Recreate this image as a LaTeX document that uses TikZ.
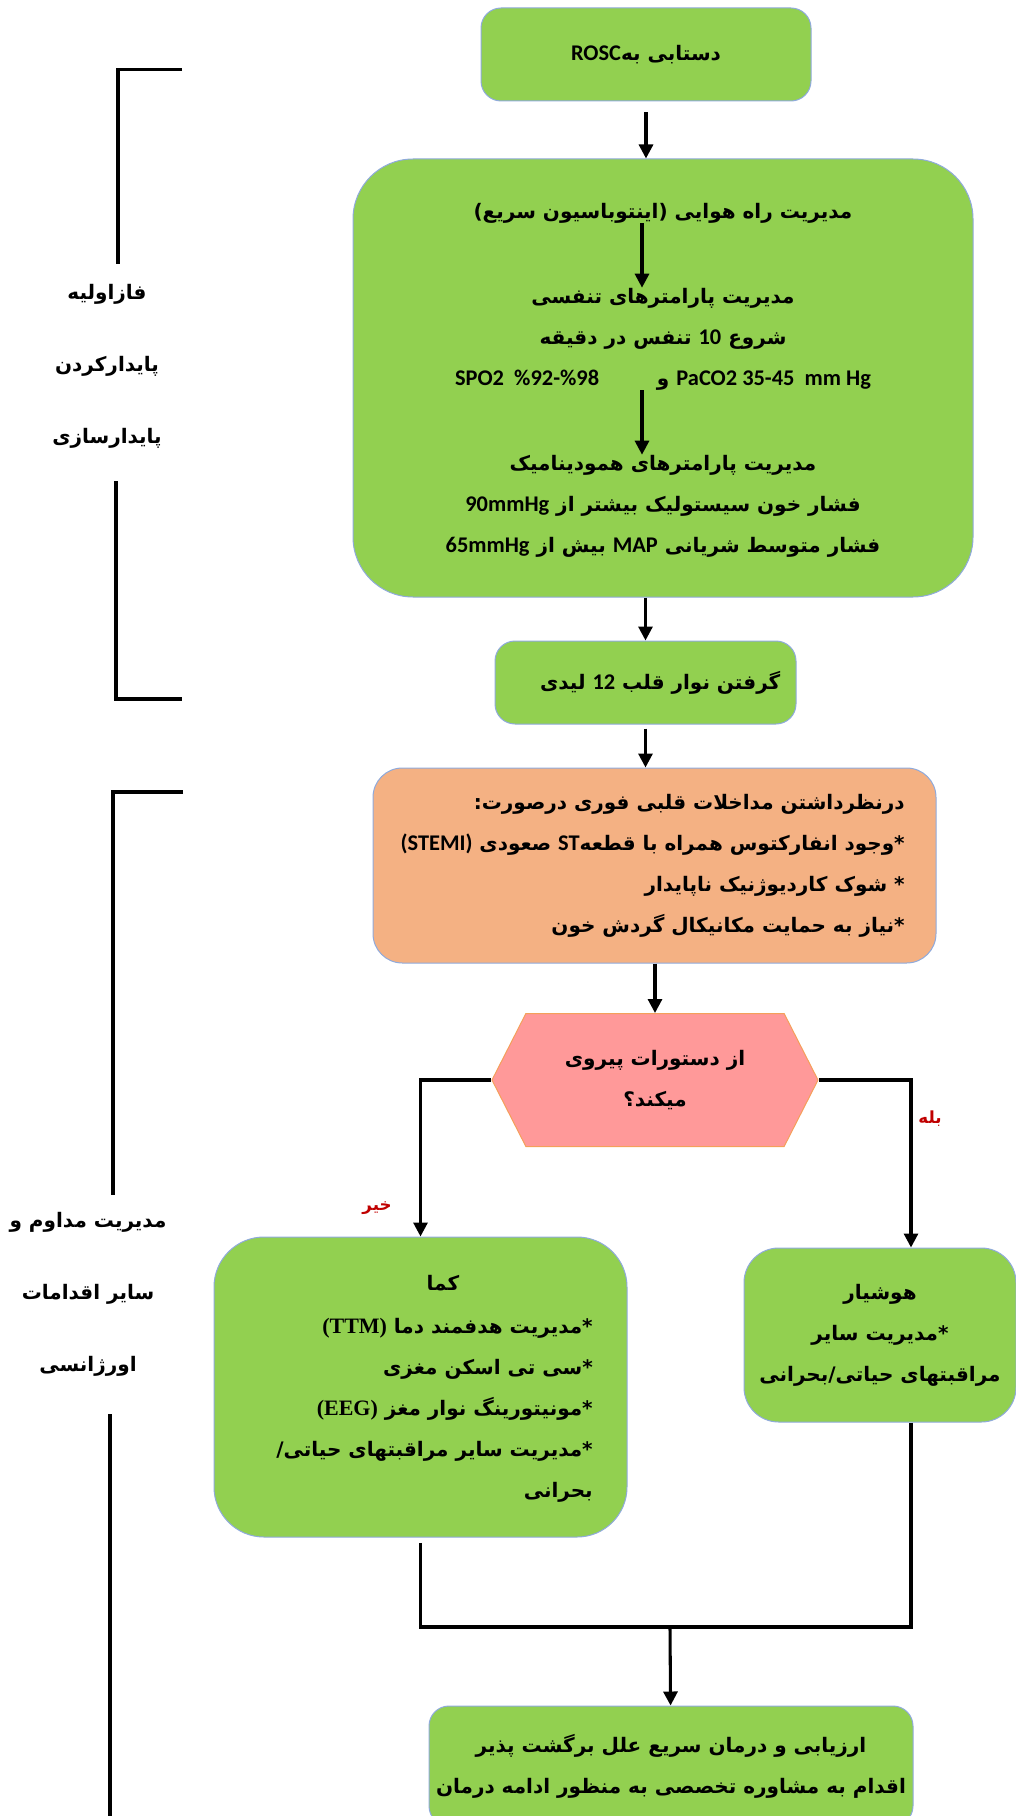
\documentclass[tikz,border=0pt]{standalone}
\usepackage{fontspec}
\usetikzlibrary{arrows.meta,shapes.symbols}
\newfontfamily\fa[Script=Arabic]{DejaVu Sans}
\newfontfamily\lat[Scale=1.12]{Carlito}
\newfontfamily\tnr[Scale=1.1]{Liberation Serif}
\TeXXeTstate=1
% one right-to-left line, and left-to-right runs inside it
\newcommand\fal[1]{\beginR #1\endR}
\newcommand\enw[1]{\beginL{\lat #1}\endL{}}
\newcommand\tnw[1]{\beginL{\tnr #1}\endL{}}
\definecolor{boxgreen}{RGB}{146,208,80}
\definecolor{boxedge}{RGB}{143,170,220}
\definecolor{boxorange}{RGB}{244,177,131}
\definecolor{hexpink}{RGB}{255,153,153}
\definecolor{hexedge}{RGB}{244,160,90}
\definecolor{answerred}{RGB}{192,0,0}

\tikzset{
  txt/.style={font=\fa\bfseries\fontsize{15}{30.75}\selectfont, align=center, inner sep=0pt},
  box/.style={txt, draw=boxedge, line width=0.75pt, fill=boxgreen, rounded corners=15pt},
  decision/.style={txt, shape=signal, signal to=west and east, signal pointer angle=126,
    fill=hexpink, draw=hexedge, line width=0.75pt, minimum width=244.5pt, minimum height=99.75pt},
  arr/.style={line width=2.3pt, -{Triangle[length=10.5pt,width=10.5pt]}},
  link/.style={line width=2.4pt},
  bracket/.style={line width=2.3pt},
  side/.style={font=\fa\bfseries\fontsize{15}{54}\selectfont, align=center},
  answer/.style={font=\fa\bfseries\fontsize{12.5}{14}\selectfont, text=answerred, inner sep=0pt}
}

\begin{document}
\begin{tikzpicture}[x=0.75pt,y=-0.75pt]
\useasboundingbox (0,0) rectangle (1016,1816);

% phase brackets on the left
\draw[bracket] (182,69.5) -- (118,69.5) -- (118,264);
\draw[bracket] (116,481) -- (116,699) -- (182,699);
\node[side] (phase1) at (107,366) {\fal{فازاولیه}\\ \fal{پایدارکردن}\\ \fal{پایدارسازی}};
\draw[bracket] (183,792) -- (113,792) -- (113,1195);
\draw[bracket] (110,1414) -- (110,1830);
\node[side] (phase2) at (88,1294) {\fal{مدیریت مداوم و}\\ \fal{سایر اقدامات}\\ \fal{اورژانسی}};

% main column
\node[box, minimum width=247.5pt, minimum height=69.75pt] (rosc) at (646,54.5) {\fal{دستابی به\enw{ROSC}}};

\node[box, rounded corners=45pt, minimum width=465pt, minimum height=328.5pt] (care) at (663,378) {};
\node[txt] (airway) at (663,213) {\fal{مدیریت راه هوایی (اینتوباسیون سریع)}};
\node[txt] (breath) at (663,339) {\fal{مدیریت پارامترهای تنفسی}\\
  \fal{شروع \enw{10} تنفس در دقیقه}\\
  {\lat SPO2\ \ \%92-\%98}\makebox[58pt]{\hspace*{38pt}و}{\lat PaCO2 35-45\ \ mm Hg}};
\node[txt] (hemo) at (663,506) {\fal{مدیریت پارامترهای همودینامیک}\\
  \fal{فشار خون سیستولیک بیشتر از \enw{90mmHg}}\\
  \fal{فشار متوسط شریانی \enw{MAP} بیش از \enw{65mmHg}}};
\coordinate (spine) at (642,0);
\draw[arr] (airway.south -| spine) -- (breath.north -| spine);
\draw[arr] (breath.south -| spine) -- (hemo.north -| spine);

\node[box, minimum width=225.75pt, minimum height=62.25pt] (ecg) at (645.5,682.5) {\hspace*{22pt}\fal{گرفتن نوار قلب \enw{12} لیدی}};

\node[box, fill=boxorange, rounded corners=22pt, minimum width=422.25pt, minimum height=146.25pt] (cardiac) at (654.5,865.5) {};
\node[txt, align=right, anchor=east] (cardtxt) at (905,866) {\fal{درنظرداشتن مداخلات قلبی فوری درصورت:}\\
  \fal{*وجود انفارکتوس همراه با قطعه\enw{ST} صعودی \enw{(STEMI)}}\\
  \fal{* شوک کاردیوژنیک ناپایدار}\\
  \fal{*نیاز به حمایت مکانیکال گردش خون}};

\node[decision] (decide) at (655,1080) {\fal{از دستورات پیروی}\\ \fal{میکند؟}};

\node[box, rounded corners=37.5pt, minimum width=309.75pt, minimum height=225pt] (coma) at (420.5,1387) {};
\node[txt] (comatitle) at (443,1283) {\fal{کما}};
\node[txt, align=right, anchor=east] (comalist) at (593,1410) {\fal{*مدیریت هدفمند دما \tnw{(TTM)}}\\
  \fal{*سی تی اسکن مغزی}\\
  \fal{*مونیتورینگ نوار مغز \tnw{(EEG)}}\\
  \fal{*مدیریت سایر مراقبتهای حیاتی/}\\
  \fal{بحرانی}};

\node[box, rounded corners=26pt, minimum width=204pt, minimum height=130.5pt] (alert) at (880,1335) {\fal{هوشیار}\\ \fal{*مدیریت سایر}\\ \fal{مراقبتهای حیاتی/بحرانی}};

\node[box, minimum width=363pt, minimum height=90pt] (final) at (671,1766) {\fal{ارزیابی و درمان سریع علل برگشت پذیر}\\
  \fal{اقدام به مشاوره تخصصی به منظور ادامه درمان}};

\node[answer] (yeslab) at (930,1119) {\fal{بله}};
\node[answer] (nolab) at (377,1208) {\fal{خیر}};

% connectors
\draw[arr, shorten <=8pt] (rosc.south) -- (rosc.south |- care.north);
\draw[arr] (care.south -| ecg) -- (ecg.north);
\draw[arr, shorten <=3pt] (ecg.south) -- (ecg.south |- cardiac.north);
\draw[arr] (cardiac.south -| decide) -- (decide.north);
\draw[arr] (decide.west) -| (coma.north);
\draw[arr] (decide.east) -| ([xshift=23.25pt]alert.north);
\coordinate (join) at (670,1627);
\draw[link] ([yshift=-4pt]coma.south) |- (join);
\draw[link] ([xshift=23.25pt]alert.south) |- (join);
\draw[arr] (join) -- (final);
\end{tikzpicture}
\end{document}
